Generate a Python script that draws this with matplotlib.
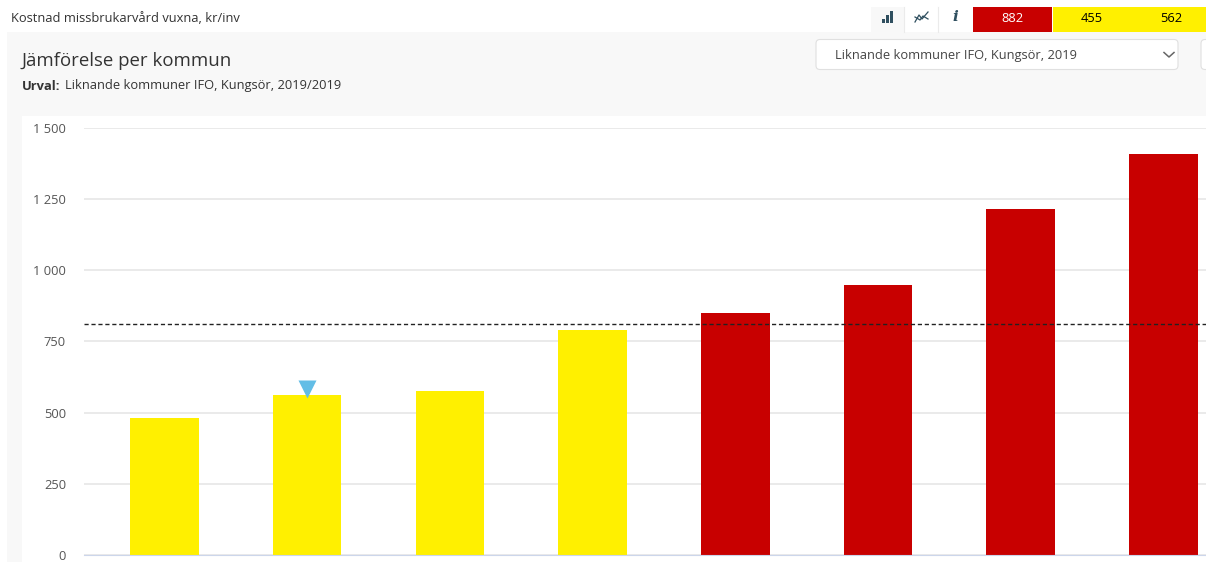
import numpy as np
import matplotlib
matplotlib.use('Agg')
import matplotlib.pyplot as plt
from matplotlib.patches import Rectangle, FancyBboxPatch

plt.rcParams['font.family'] = ['Open Sans', 'DejaVu Sans']

# data
values = [481, 560, 575, 790, 850, 947, 1213, 1408]
bar_colors = ['#fff000'] * 4 + ['#c80000'] * 4
marked_bar = 1
average = 811
y_ticks = [0, 250, 500, 750, 1000, 1250, 1500]
y_labels = ['0', '250', '500', '750', '1 000', '1 250', '1 500']

head_values = ['882', '455', '562']
head_colors = ['#c80000', '#fff000', '#fff000']
head_text = ['white', 'black', 'black']

W, H = 1206, 562
small = 9.3
fig = plt.figure(figsize=(W / 100, H / 100), dpi=100, facecolor='white')

# page around the chart, in pixel coordinates
bg = fig.add_axes([0, 0, 1, 1], zorder=0)
bg.set_xlim(0, W)
bg.set_ylim(H, 0)
bg.axis('off')
bg.add_patch(Rectangle((7, 32), W - 7, H - 32, fc='#f8f8f8', ec='none'))
bg.add_patch(Rectangle((22, 116), W - 22, H - 116, fc='white', ec='none'))

dark = '#333333'
bg.text(11, 18, 'Kostnad missbrukarvård vuxna, kr/inv', fontsize=small, color=dark, va='center')
bg.text(22, 61, 'Jämförelse per kommun', fontsize=13.4, color=dark, va='center')
bg.text(22, 86, 'Urval:', fontsize=small, color=dark, va='center', fontweight='bold')
bg.text(65, 86, 'Liknande kommuner IFO, Kungsör, 2019/2019', fontsize=small, color=dark, va='center')

# dropdowns
bg.add_patch(FancyBboxPatch((816, 39.5), 362, 30, boxstyle='round,pad=0,rounding_size=4',
                            fc='white', ec='#e0e0e0', lw=0.8))
bg.text(835, 55, 'Liknande kommuner IFO, Kungsör, 2019', fontsize=small, color='#444444', va='center')
bg.plot([1164, 1169, 1174], [52.5, 57, 52.5], color='#666666', lw=1.1)
bg.add_patch(FancyBboxPatch((1201, 39.5), 20, 30, boxstyle='round,pad=0,rounding_size=4',
                            fc='white', ec='#e0e0e0', lw=0.8))

# icon buttons
bg.add_patch(Rectangle((871, 7), 33, 25, fc='#f8f8f8', ec='none'))
for x in [904, 938]:
    bg.plot([x, x], [7, 32], color='#ebebeb', lw=0.8)
for x, top in zip([882, 886, 890], [19, 15, 11]):
    bg.add_patch(Rectangle((x, top), 2.6, 23 - top, fc='#2f4f5f', ec='none'))
bg.plot([915, 919, 922, 928], [22, 15, 19, 12], color='#2f4f5f', lw=0.9)
bg.plot([915, 920, 923, 928], [17, 20, 16, 19], color='#2f4f5f', lw=0.9)
bg.text(955, 17, 'i', fontsize=11, color='#2f4f5f', fontweight='bold', style='italic',
        family='DejaVu Serif', ha='center', va='center')

# colored values in the header
for i in range(3):
    x = 973 + i * 79.5
    bg.add_patch(Rectangle((x, 7), 79, 25, fc=head_colors[i], ec='none'))
    bg.text(x + 39.5, 18, head_values[i], fontsize=small, color=head_text[i], ha='center', va='center')

# chart
ax = fig.add_axes([84 / W, (H - 555) / H, (W - 84) / W, 427.5 / H], zorder=1)
ax.patch.set_alpha(0)
x = np.arange(len(values))
ax.bar(x, values, width=0.48, color=bar_colors, zorder=2)
ax.axhline(average, color='#222222', lw=1, ls=(0, (3, 2)), zorder=3)
ax.plot(x[marked_bar], values[marked_bar] + 23, marker='v', ms=13, color='#62bde6',
        mec='none', ls='none', zorder=4, clip_on=False)

ax.set_xlim(-0.5641, 7.2985)
ax.set_ylim(0, 1500)
ax.set_yticks(y_ticks)
ax.set_yticklabels(y_labels, fontsize=small, color='#555555')
ax.set_xticks([])
ax.tick_params(axis='y', length=0, pad=13)
ax.grid(axis='y', color='#e4e4e4', lw=1.1, zorder=1)
ax.set_axisbelow(True)
for name in ['top', 'right', 'left']:
    ax.spines[name].set_visible(False)
ax.spines['bottom'].set_color('#ccd6eb')

fig.savefig('out.png', dpi=100)
